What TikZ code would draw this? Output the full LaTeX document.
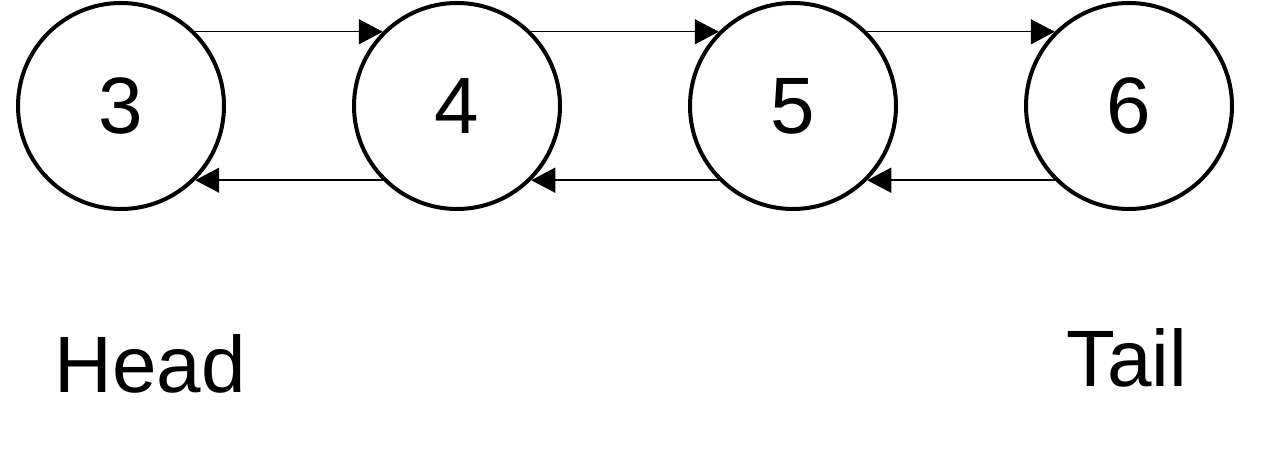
\documentclass[tikz,border=0pt]{standalone}
\usepackage{fontspec}
\setmainfont{Liberation Sans}
\usetikzlibrary{positioning,arrows.meta}

\begin{document}
\begin{tikzpicture}[x=1pt,y=1pt,node distance=336pt,
	every node/.style={font=\fontsize{80}{96}\selectfont},
	elem/.style={circle,draw,line width=4pt,minimum size=206pt,inner sep=0pt},
	link/.style={line width=1.5pt,-{Triangle[length=24pt,width=25pt]}}]
	\useasboundingbox (0,0) rectangle (1263,462);
	\node[elem] (n3) at (121,356) {3};
	\node[elem] (n4) [right of=n3] {4};
	\node[elem] (n5) [right of=n4] {5};
	\node[elem] (n6) [right of=n5] {6};
	\node[anchor=base] (head) at (150,69) {Head};
	\node[anchor=base] (tail) at (1127,75) {Tail};

	\path[link] (n3.north east) edge (n4.north west);
	\path[link] (n4.north east) edge (n5.north west);
	\path[link] (n5.north east) edge (n6.north west);
	\path[link] (n4.south west) edge (n3.south east);
	\path[link] (n5.south west) edge (n4.south east);
	\path[link] (n6.south west) edge (n5.south east);
\end{tikzpicture}
\end{document}
